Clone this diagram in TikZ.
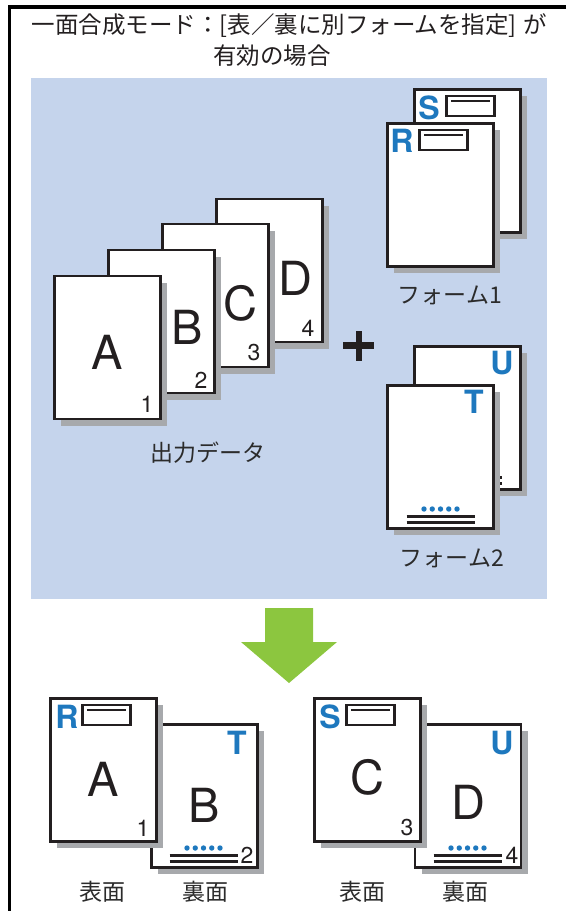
\documentclass[tikz,border=0pt]{standalone}
\usepackage{fontspec}
\setmainfont{TeX Gyre Heros}
\newfontfamily\jp{Noto Sans CJK JP}
\usetikzlibrary{shadows,calc}
\definecolor{ink}{HTML}{231F20}
\definecolor{panel}{HTML}{C5D4EC}
\definecolor{shgray}{HTML}{A7A9AC}
\definecolor{formblue}{HTML}{1E78BE}
\definecolor{arrowgreen}{HTML}{8CC63F}
\definecolor{labelgray}{HTML}{2B2B2B}
\tikzset{
  page/.style={draw=ink, line width=2.7pt, fill=white, minimum width=106pt, minimum height=143pt, inner sep=0pt,
    drop shadow={shadow xshift=6.5pt, shadow yshift=-6.5pt, fill=shgray, opacity=1}},
  bigletter/.style={inner sep=0pt, font=\fontsize{47}{47}\selectfont, text=ink},
  pnum/.style={inner sep=0pt, font=\fontsize{23}{23}\selectfont, text=ink},
  formletter/.style={inner sep=0pt, font=\fontsize{32}{32}\selectfont\bfseries, text=formblue},
  formbox/.style={draw=ink, line width=2.7pt, fill=white, inner sep=0pt, minimum width=48.5pt, minimum height=20pt},
  jplabel/.style={inner sep=0pt, font=\jp\fontsize{23}{23}\selectfont, text=labelgray},
  titletext/.style={inner sep=0pt, font=\jp\fontsize{23.5}{23.5}\selectfont, text=ink},
  formhead/.pic={
    \node[formbox] (-box) at (0,0) {};
    \draw[ink, line width=2.2pt] (-19.5,-5) -- (19.5,-5);
  },
  footer/.pic={
    \foreach \i in {0,...,4} \fill[formblue] (\i*8.25,0) circle (2.7pt);
    \draw[ink, line width=2.2pt] (-17.5,7.5) -- (51,7.5) (-17.5,13.5) -- (51,13.5);
  }
}
\begin{document}
\begin{tikzpicture}[x=1pt,y=-1pt]
\useasboundingbox (0,0) rectangle (566,911);
% frame
\draw[black, line width=3.6pt] (566,7) -- (9.3,7) -- (9.3,911);
% title
\node[titletext] (title1) at (289.5,26) {一面合成モード：[表／裏に別フォームを指定]\hspace{7pt}が};
\node[titletext] (title2) at (272,56) {有効の場合};
% panel
\fill[panel] (31,78) rectangle (547,599);

% data pages
\node[page] (pD) at (269.5,270.5) {};
\node[bigletter] (lD) at (295,278) {D};
\node[pnum] (nD) at (308,328) {4};
\node[page] (pC) at (215.5,295.5) {};
\node[bigletter] (lC) at (240,303) {C};
\node[pnum] (nC) at (254,353) {3};
\node[page] (pB) at (161.5,321.5) {};
\node[bigletter] (lB) at (187,327) {B};
\node[pnum] (nB) at (201,380) {2};
\node[page] (pA) at (107.5,347.5) {};
\node[bigletter] (lA) at (107,352) {A};
\node[pnum] (nA) at (147,404) {1};
\node[jplabel] (data) at (208,453) {出力データ};

% plus
\fill[ink] (355.7,330.7) rectangle (362.3,360.7);
\fill[ink] (343,342) rectangle (374,349);

% form 1
\node[page] (pS) at (467.5,161) {};
\node[formletter] (lS) at (429,108) {S};
\pic (hS) at (470.5,106) {formhead};
\node[page] (pR) at (440.5,195) {};
\node[formletter] (lR) at (402,141) {R};
\pic (hR) at (443.5,140) {formhead};
\node[jplabel] (form1) at (450,295) {フォーム1};

% form 2
\node[page] (pU) at (467.5,418) {};
\node[formletter] (lU) at (502,363) {U};
\pic (fU) at (451,470) {footer};
\node[page] (pT) at (440.5,457) {};
\node[formletter] (lT) at (474,402) {T};
\pic (fT) at (424,509) {footer};
\node[jplabel] (form2) at (452,558) {フォーム2};

% arrow
\fill[arrowgreen] (265,608) -- (313,608) -- (313,642) -- (337,642) -- (289,683) -- (241,642) -- (265,642) -- cycle;

% result left
\node[page] (rB) at (204.5,796) {};
\node[formletter] (rlT) at (237,743) {T};
\node[bigletter] (rlB) at (204,805) {B};
\pic (rfB) at (187,848) {footer};
\node[pnum] (rnB) at (247,855) {2};
\node[page] (rA) at (103.5,770) {};
\node[formletter] (rlR) at (67,717) {R};
\pic (rhA) at (106.5,715) {formhead};
\node[bigletter] (rlA) at (103,779) {A};
\node[pnum] (rnA) at (143,828) {1};
\node[jplabel] (front1) at (102,892) {表面};
\node[jplabel] (back1) at (205,892) {裏面};

% result right
\node[page] (rD) at (468,796) {};
\node[formletter] (rlU) at (502,743) {U};
\node[bigletter] (rlD) at (468,802) {D};
\pic (rfD) at (451,848) {footer};
\node[pnum] (rnD) at (512,855) {4};
\node[page] (rC) at (367.5,770) {};
\node[formletter] (rlS) at (330,717) {S};
\pic (rhC) at (370.5,715) {formhead};
\node[bigletter] (rlC) at (367,777) {C};
\node[pnum] (rnC) at (407,828) {3};
\node[jplabel] (front2) at (362,892) {表面};
\node[jplabel] (back2) at (465,892) {裏面};
\end{tikzpicture}
\end{document}
